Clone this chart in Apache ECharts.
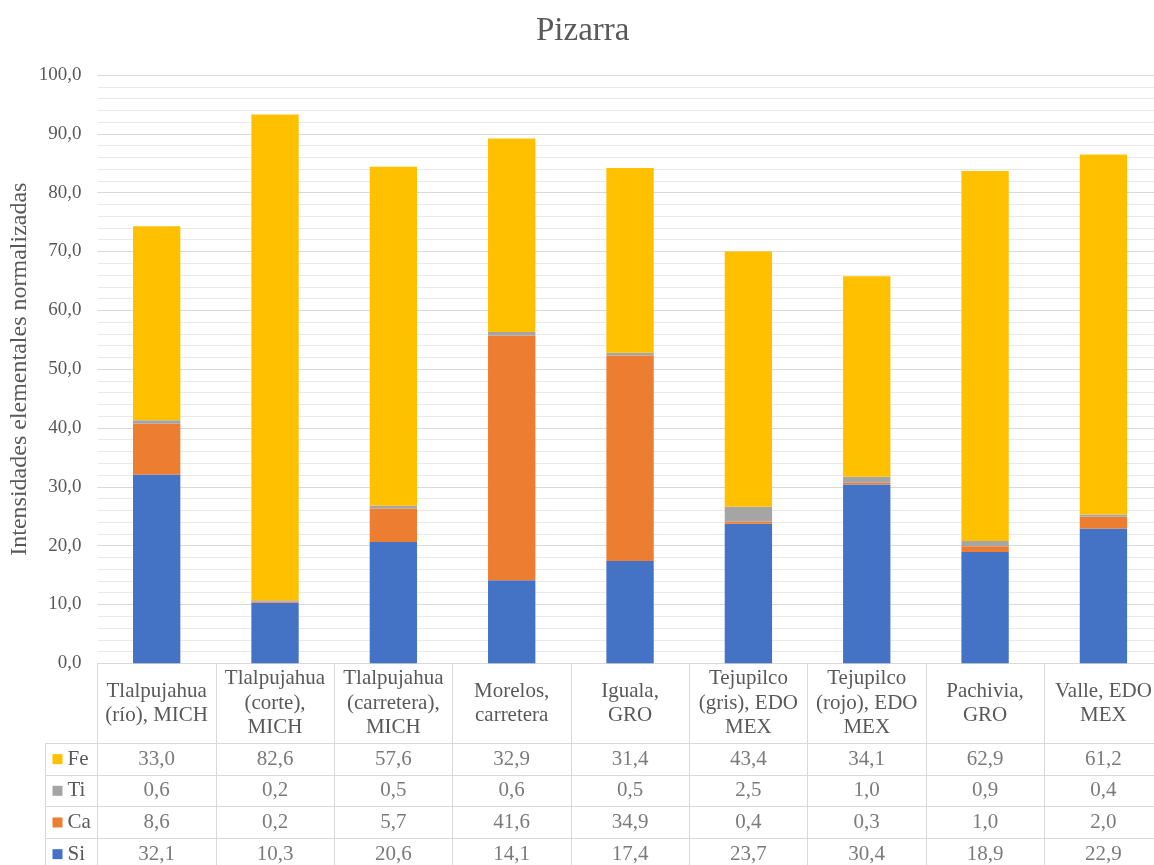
<!DOCTYPE html>
<html>
<head>
<meta charset="utf-8">
<title>Pizarra</title>
<script src="https://cdn.jsdelivr.net/npm/echarts@6/dist/echarts.min.js"></script>
<style>
  html, body { margin: 0; padding: 0; background: #ffffff; }
  #chart { width: 1154px; height: 865px; }
</style>
</head>
<body>
<div id="chart"></div>
<script>
// Sample sites (table header text, wrapped as in the chart)
var categories = [
  'Tlalpujahua\n(río), MICH',
  'Tlalpujahua\n(corte),\nMICH',
  'Tlalpujahua\n(carretera),\nMICH',
  'Morelos,\ncarretera',
  'Iguala,\nGRO',
  'Tejupilco\n(gris), EDO\nMEX',
  'Tejupilco\n(rojo), EDO\nMEX',
  'Pachivia,\nGRO',
  'Valle, EDO\nMEX'
];

// Normalized elemental intensities
var si = [32.1, 10.3, 20.6, 14.1, 17.4, 23.7, 30.4, 18.9, 22.9];
var ca = [8.6, 0.2, 5.7, 41.6, 34.9, 0.4, 0.3, 1.0, 2.0];
var ti = [0.6, 0.2, 0.5, 0.6, 0.5, 2.5, 1.0, 0.9, 0.4];
var fe = [33.0, 82.6, 57.6, 32.9, 31.4, 43.4, 34.1, 62.9, 61.2];

var elements = ['Si', 'Ca', 'Ti', 'Fe'];
var colors = { Si: '#4472C4', Ca: '#ED7D31', Ti: '#A5A5A5', Fe: '#FFC000' };
var values = { Si: si, Ca: ca, Ti: ti, Fe: fe };

var FONT = 'Liberation Serif';
var TEXT = '#595959';
var LINE = '#d9d9d9';

function fmt(v) {
  return v.toFixed(1).replace('.', ',');
}

// grid layout
var gridLeft = 97.5, gridRight = -8.6;

// table cells: [column, row, value]
var cells = [];
elements.forEach(function (el) {
  values[el].forEach(function (v, i) {
    cells.push([i, el, v]);
  });
});

var rich = {};
elements.forEach(function (el) {
  rich['sq' + el] = { width: 10, height: 10, backgroundColor: colors[el] };
});
rich.t = { fontFamily: FONT, fontSize: 21, color: TEXT, padding: [0, 0, 0, 5] };

var barSeries = elements.map(function (el) {
  return {
    name: el,
    type: 'bar',
    stack: 'total',
    xAxisIndex: 0,
    yAxisIndex: 0,
    barWidth: '40%',
    itemStyle: { color: colors[el] },
    data: values[el]
  };
});

var option = {
  animation: false,
  backgroundColor: '#ffffff',
  textStyle: { fontFamily: FONT },
  title: {
    text: 'Pizarra',
    left: 531,
    top: 10,
    textStyle: { fontFamily: FONT, fontSize: 33, fontWeight: 'normal', color: TEXT }
  },
  grid: [
    { left: gridLeft, right: gridRight, top: 75, height: 588.3, outerBoundsMode: 'none', containLabel: false },
    { left: gridLeft, right: gridRight, top: 743.3, height: 126.7, outerBoundsMode: 'none', containLabel: false }
  ],
  xAxis: [
    {
      type: 'category',
      gridIndex: 0,
      data: categories,
      axisLine: { show: true, lineStyle: { color: LINE } },
      axisTick: { show: true, length: 80, lineStyle: { color: LINE } },
      axisLabel: {
        margin: 40,
        verticalAlign: 'middle',
        fontFamily: FONT,
        fontSize: 21,
        lineHeight: 24.5,
        color: TEXT,
        interval: 0
      }
    },
    {
      type: 'category',
      gridIndex: 1,
      position: 'top',
      data: categories,
      axisLine: { show: true, lineStyle: { color: LINE } },
      axisTick: { show: false },
      axisLabel: { show: false },
      splitLine: { show: true, lineStyle: { color: LINE } }
    }
  ],
  yAxis: [
    {
      type: 'value',
      gridIndex: 0,
      min: 0,
      max: 100,
      interval: 10,
      name: 'Intensidades elementales normalizadas',
      nameLocation: 'middle',
      nameGap: 66,
      nameMoveOverlap: false,
      nameTextStyle: { fontFamily: FONT, fontSize: 24, color: TEXT },
      axisLine: { show: false },
      axisTick: { show: false },
      axisLabel: {
        margin: 16,
        fontFamily: FONT,
        fontSize: 19,
        color: TEXT,
        formatter: function (v) { return fmt(v); }
      },
      splitLine: { show: true, lineStyle: { color: LINE } },
      minorTick: { show: false, splitNumber: 5 },
      minorSplitLine: { show: true, lineStyle: { color: '#e9e9e9' } }
    },
    {
      type: 'category',
      gridIndex: 1,
      inverse: true,
      data: ['Fe', 'Ti', 'Ca', 'Si'],
      axisLine: { show: true, lineStyle: { color: LINE } },
      axisTick: { show: true, length: 52.5, lineStyle: { color: LINE } },
      axisLabel: {
        margin: 45,
        align: 'left',
        fontFamily: FONT,
        formatter: function (v) { return '{sq' + v + '|}{t|' + v + '}'; },
        rich: rich
      },
      splitLine: { show: true, lineStyle: { color: LINE } }
    },
    {
      // left border of the legend column
      type: 'category',
      gridIndex: 1,
      data: ['Fe', 'Ti', 'Ca', 'Si'],
      position: 'left',
      offset: 52.5,
      axisLine: { show: true, lineStyle: { color: LINE } },
      axisTick: { show: false },
      axisLabel: { show: false }
    }
  ],
  series: barSeries.concat([
    {
      type: 'scatter',
      xAxisIndex: 1,
      yAxisIndex: 1,
      symbolSize: 0,
      silent: true,
      label: {
        show: true,
        position: 'inside',
        fontFamily: FONT,
        fontSize: 21,
        color: TEXT,
        formatter: function (p) { return fmt(p.value[2]); }
      },
      data: cells
    }
  ])
};

var myChart = echarts.init(document.getElementById('chart'));
myChart.setOption(option);
</script>
</body>
</html>
